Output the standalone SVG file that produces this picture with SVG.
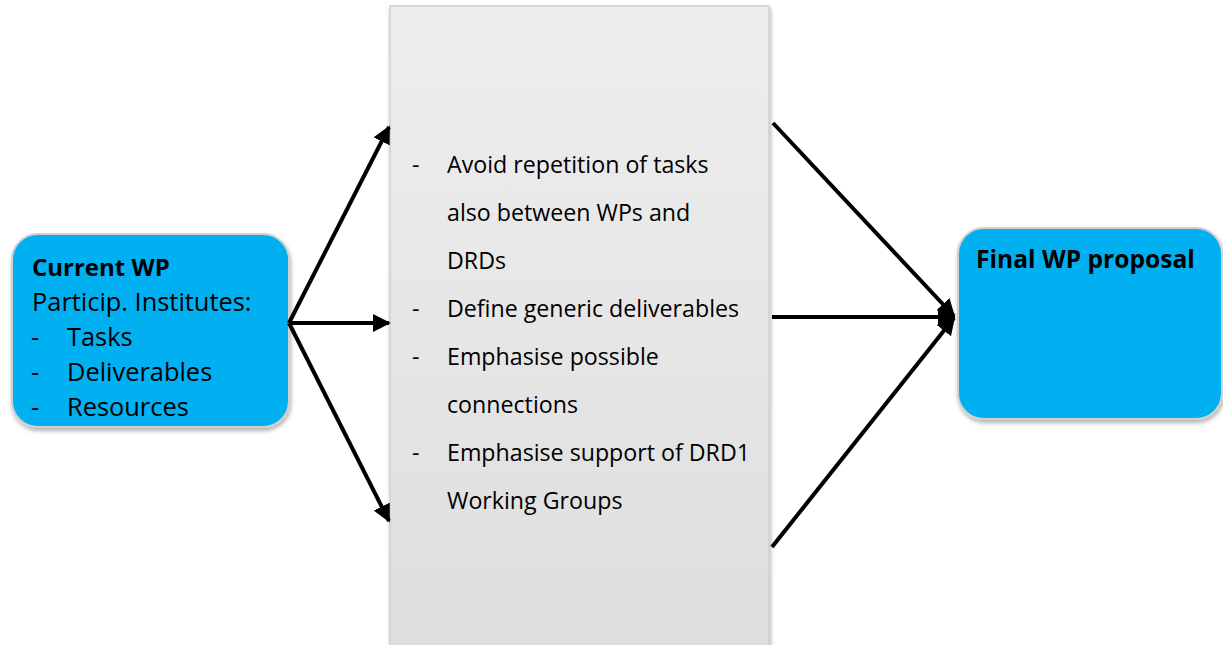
<svg xmlns="http://www.w3.org/2000/svg" width="1223" height="645" viewBox="0 0 1223 645">
<defs>
<linearGradient id="gray" x1="0" y1="0" x2="0" y2="1">
<stop offset="0" stop-color="#eeeeee"/>
<stop offset="1" stop-color="#dedede"/>
</linearGradient>
<filter id="sh" x="-10%" y="-10%" width="120%" height="125%">
<feDropShadow dx="1" dy="3" stdDeviation="2" flood-color="#000" flood-opacity="0.3"/>
</filter>
<marker id="ah" viewBox="0 0 10 10" refX="9" refY="5" markerWidth="4.5" markerHeight="4.5" orient="auto" markerUnits="strokeWidth">
<path d="M0,0 L10,5 L0,10 z" fill="#000"/>
</marker>
<style>
.t{font-family:"Open Sans","Liberation Sans",sans-serif;fill:#000}
.box{fill:#00b0f0;stroke:#d0d0d0;stroke-width:2}
.c{stroke:#000;stroke-width:4;fill:none}
</style>
</defs>
<rect width="1223" height="645" fill="#fff"/>
<g id="middle">
<rect x="390" y="6" width="379" height="645" fill="url(#gray)" stroke="#d0d0d0" stroke-width="1.5" filter="url(#sh)"/>
<g class="t" font-size="23.2">
<text x="412" y="173">-</text><text x="447" y="173">Avoid repetition of tasks</text>
<text x="447" y="221">also between WPs and</text>
<text x="447" y="269">DRDs</text>
<text x="412" y="317">-</text><text x="447" y="317">Define generic deliverables</text>
<text x="412" y="365">-</text><text x="447" y="365">Emphasise possible</text>
<text x="447" y="413">connections</text>
<text x="412" y="461">-</text><text x="447" y="461">Emphasise support of DRD1</text>
<text x="447" y="509">Working Groups</text>
</g>
</g>
<g id="current">
<rect class="box" x="12" y="234" width="277" height="193" rx="26" filter="url(#sh)"/>
<g class="t" font-size="25.4">
<text x="32" y="276" font-weight="bold" font-size="24">Current WP</text>
<text x="32" y="311">Particip. Institutes:</text>
<text x="31" y="346">-</text><text x="67" y="346">Tasks</text>
<text x="31" y="381">-</text><text x="67" y="381">Deliverables</text>
<text x="31" y="416">-</text><text x="67" y="416">Resources</text>
</g>
</g>
<g id="final">
<rect class="box" x="958" y="228" width="264" height="191" rx="26" filter="url(#sh)"/>
<text class="t" x="976" y="268" font-size="24.6" font-weight="bold">Final WP proposal</text>
</g>
<g id="connectors">
<line class="c" x1="289" y1="323" x2="389" y2="127" marker-end="url(#ah)"/>
<line class="c" x1="289" y1="323" x2="389" y2="323" marker-end="url(#ah)"/>
<line class="c" x1="289" y1="323" x2="389" y2="521" marker-end="url(#ah)"/>
<line class="c" x1="773" y1="123" x2="954" y2="316" marker-end="url(#ah)"/>
<line class="c" x1="772" y1="317" x2="954" y2="317" marker-end="url(#ah)"/>
<line class="c" x1="772" y1="547" x2="954" y2="318" marker-end="url(#ah)"/>
</g>
</svg>
